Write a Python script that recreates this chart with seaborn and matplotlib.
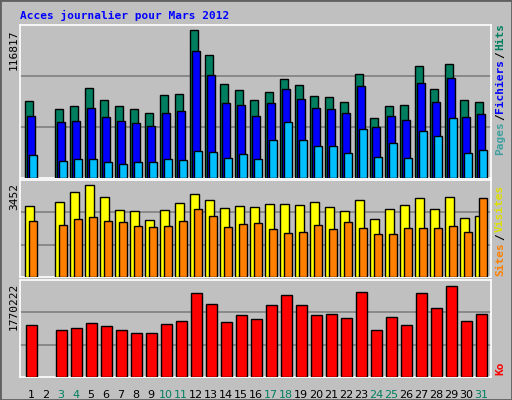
import numpy as np
import pandas as pd
import matplotlib
matplotlib.use("Agg")
import matplotlib.pyplot as plt
import seaborn as sns
from matplotlib.patches import Rectangle

days = list(range(1, 32))
weekend = [3, 4, 10, 11, 17, 18, 24, 25, 31]

hits = [60530, np.nan, 54690, 56280, 70620, 61060, 56280, 54690, 51500, 65040, 65840, 116817, 96900,
        73800, 69030, 61060, 67430, 77790, 73010, 64250, 63450, 59470, 81770, 47520, 56280, 57080,
        88140, 69820, 89740, 61060, 59470]
files = [49120, np.nan, 44340, 45130, 55490, 48320, 45130, 43540, 41150, 51500, 53100, 100090, 80970,
         58670, 57080, 49120, 58670, 69820, 61860, 55490, 54690, 51500, 72210, 40350, 49120, 45930,
         74600, 59470, 78590, 48320, 50710]
pages = [18050, np.nan, 13270, 14870, 14870, 12480, 10890, 12480, 12480, 14870, 14070, 21240, 20440,
         15660, 18850, 14870, 30000, 44340, 30000, 25220, 25220, 19650, 38760, 16460, 27610, 15660,
         37170, 33190, 47520, 19650, 22040]
visits = [2652, np.nan, 2802, 3177, 3452, 2990, 2502, 2464, 2127, 2502, 2764, 3102, 2877, 2577, 2652,
          2614, 2727, 2727, 2689, 2802, 2614, 2464, 2877, 2164, 2539, 2689, 2952, 2539, 2990, 2201, 2277]
sites = [2089, np.nan, 1939, 2164, 2239, 2089, 2051, 1901, 1864, 1901, 2089, 2539, 2277, 1864, 1976,
         2014, 1789, 1639, 1676, 1939, 1789, 2051, 1826, 1601, 1601, 1826, 1826, 1826, 1901, 1676, 2952]
ko = [1011500, np.nan, 914200, 953100, 1050400, 992000, 914200, 855900, 855900, 1031000, 1089300,
      1634000, 1420000, 1069900, 1206000, 1128200, 1400500, 1595100, 1400500, 1206000, 1225500,
      1147700, 1653400, 914200, 1167100, 1011500, 1634000, 1342200, 1770222, 1089300, 1225500]

df = pd.DataFrame({"day": days, "hits": hits, "files": files, "pages": pages,
                   "visits": visits, "sites": sites, "ko": ko}).dropna()

BG = "#c0c0c0"
C_HITS, C_FILES, C_PAGES = "#007f60", "#0000ff", "#00bfff"
C_VIS, C_SITES, C_KO = "#ffff00", "#ff8000", "#ff0000"
W, H = 512, 400

fig = plt.figure(figsize=(5.12, 4.0), dpi=100, facecolor=BG)
fig.patches.append(Rectangle((0, 0), 1, 1, transform=fig.transFigure, fill=False,
                             edgecolor="#606060", linewidth=2))


def px_axes(x0, y0, x1, y1):
    ax = fig.add_axes([x0 / W, 1 - y1 / H, (x1 - x0) / W, (y1 - y0) / H])
    ax.set_facecolor(BG)
    for s in ax.spines.values():
        s.set_color("white")
        s.set_linewidth(1.2)
    return ax


def draw(ax, col, offset, width, color):
    sns.barplot(x=df["day"] + offset, y=df[col], native_scale=True, width=width, color=color,
                edgecolor="black", linewidth=1, saturation=1, ax=ax, zorder=3)


def finish(ax, ymax, frac):
    top = ymax / frac
    ax.set_ylim(0, top)
    ax.set_xlim(0.27, 31.67)
    ax.set_yticks([top / 3, 2 * top / 3])
    ax.grid(axis="y", color="#808080", linewidth=1.2, zorder=0)
    ax.grid(axis="x", visible=False)
    ax.tick_params(left=False, bottom=False, labelleft=False, labelbottom=False)
    ax.set_xlabel("")
    ax.set_ylabel("")


ax1 = px_axes(20, 25, 491, 178)
draw(ax1, "hits", -0.133, 0.49, C_HITS)
draw(ax1, "files", 0.0, 0.49, C_FILES)
draw(ax1, "pages", 0.133, 0.49, C_PAGES)
finish(ax1, 116817, 0.97)

ax2 = px_axes(20, 180, 491, 277)
draw(ax2, "visits", -0.1, 0.55, C_VIS)
draw(ax2, "sites", 0.13, 0.49, C_SITES)
finish(ax2, 3452, 0.95)

ax3 = px_axes(20, 280, 491, 377)
draw(ax3, "ko", 0.033, 0.69, C_KO)
finish(ax3, 1770222, 0.94)

ax3.tick_params(labelbottom=True, pad=6)
ax3.set_xticks(days)
ax3.set_xticklabels([str(d) for d in days], fontsize=8)
for lab, d in zip(ax3.get_xticklabels(), days):
    lab.set_color("#008060" if d in weekend else "black")

mono = "DejaVu Sans Mono"
fig.text(20 / W, 1 - 15 / H, "Acces journalier pour Mars 2012", color="#0000ff", family=mono,
         fontweight="bold", fontsize=8, va="center")

for txt, ytop in [("116817", 29), ("3452", 183), ("1770222", 283)]:
    fig.text(14 / W, 1 - ytop / H, txt, rotation=90, va="top", ha="center", family=mono, fontsize=8)

right = [("Pages", 155, "#40a0a0"), ("/", 120, "black"), ("Fichiers", 113, C_FILES), ("/", 58, "black"),
         ("Hits", 50, C_HITS), ("Sites", 276, C_SITES), ("/", 240, "black"), ("Visites", 232, "#e0e000"),
         ("Ko", 375, C_KO)]
for txt, ybot, c in right:
    fig.text(500 / W, 1 - ybot / H, txt, rotation=90, va="bottom", ha="center", family=mono,
             fontsize=8, fontweight="bold", color=c)

fig.savefig("out.png", dpi=100, facecolor=BG)
